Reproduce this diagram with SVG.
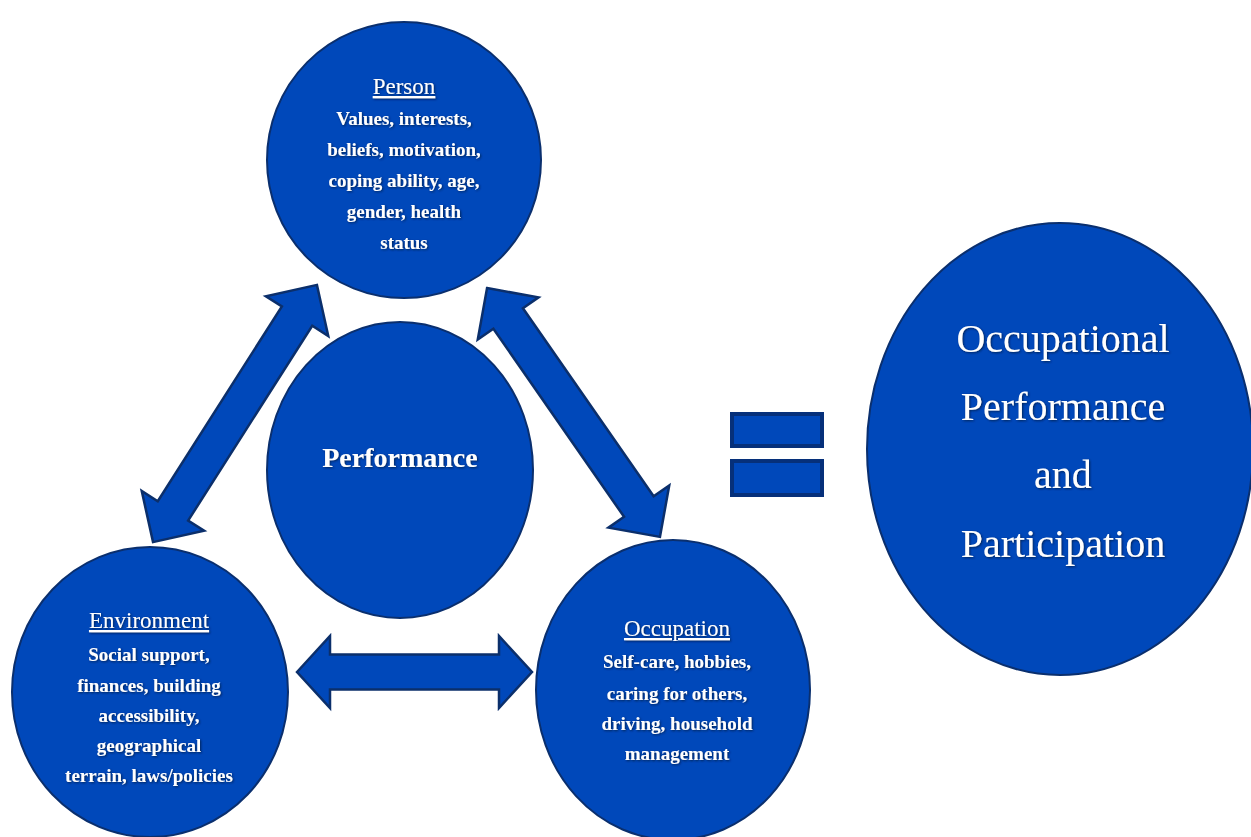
<svg xmlns="http://www.w3.org/2000/svg" width="1251" height="837" viewBox="0 0 1251 837">
  <defs>
    <filter id="txtShadow" x="-10%" y="-30%" width="120%" height="160%">
      <feDropShadow dx="1" dy="1" stdDeviation="0.8" flood-color="#001a4d" flood-opacity="0.9"/>
    </filter>
  </defs>
  <style>
    .disc { fill: #0048ba; stroke: #0a2f6e; stroke-width: 2; }
    .arrow { fill: #0048ba; stroke: #0b2f6b; stroke-width: 2.5; stroke-linejoin: miter; }
    .bar { fill: #0048ba; stroke: #06307a; stroke-width: 4; }
    text { font-family: "Liberation Serif", "Times New Roman", serif; fill: #ffffff; text-anchor: middle; filter: url(#txtShadow); }
    .head { font-size: 23px; text-decoration: underline; }
    .body { font-size: 19px; font-weight: bold; }
    .center { font-size: 28px; font-weight: bold; }
    .result { font-size: 40px; }
  </style>

  <rect width="1251" height="837" fill="#ffffff"/>

  <!-- connectors: double-headed block arrows between the three domains -->
  <g id="connectors">
    <!-- Person <-> Environment -->
    <polygon class="arrow" transform="translate(235,413.5) rotate(-57.5)"
      points="-152.5,0 -115.5,-37 -115.5,-18 115.5,-18 115.5,-37 152.5,0 115.5,37 115.5,18 -115.5,18 -115.5,37"/>
    <!-- Person <-> Occupation -->
    <polygon class="arrow" transform="translate(573.5,412.5) rotate(55.2)"
      points="-151.5,0 -114.5,-37 -114.5,-18 114.5,-18 114.5,-37 151.5,0 114.5,37 114.5,18 -114.5,18 -114.5,37"/>
    <!-- Environment <-> Occupation -->
    <polygon class="arrow" transform="translate(414.5,672)"
      points="-117.5,0 -84.5,-36 -84.5,-17.5 84.5,-17.5 84.5,-36 117.5,0 84.5,36 84.5,17.5 -84.5,17.5 -84.5,36"/>
  </g>

  <g id="person">
    <ellipse class="disc" cx="404" cy="160" rx="137" ry="138"/>
    <text class="head" x="404" y="94">Person</text>
    <text class="body" x="404" y="125">Values, interests,</text>
    <text class="body" x="404" y="156">beliefs, motivation,</text>
    <text class="body" x="404" y="187">coping ability, age,</text>
    <text class="body" x="404" y="218">gender, health</text>
    <text class="body" x="404" y="249">status</text>
  </g>

  <g id="performance">
    <ellipse class="disc" cx="400" cy="470" rx="133" ry="148"/>
    <text class="center" x="400" y="467">Performance</text>
  </g>

  <g id="environment">
    <ellipse class="disc" cx="150" cy="692" rx="138" ry="145"/>
    <text class="head" x="149" y="628">Environment</text>
    <text class="body" x="149" y="661">Social support,</text>
    <text class="body" x="149" y="692">finances, building</text>
    <text class="body" x="149" y="722">accessibility,</text>
    <text class="body" x="149" y="752">geographical</text>
    <text class="body" x="149" y="782">terrain, laws/policies</text>
  </g>

  <g id="occupation">
    <ellipse class="disc" cx="673" cy="690" rx="137" ry="150"/>
    <text class="head" x="677" y="636">Occupation</text>
    <text class="body" x="677" y="668">Self-care, hobbies,</text>
    <text class="body" x="677" y="700">caring for others,</text>
    <text class="body" x="677" y="730">driving, household</text>
    <text class="body" x="677" y="760">management</text>
  </g>

  <g id="equals">
    <rect class="bar" x="732" y="414" width="90" height="32"/>
    <rect class="bar" x="732" y="461" width="90" height="34"/>
  </g>

  <g id="outcome">
    <ellipse class="disc" cx="1060" cy="449" rx="193" ry="226"/>
    <text class="result" x="1063" y="352">Occupational</text>
    <text class="result" x="1063" y="420">Performance</text>
    <text class="result" x="1063" y="488">and</text>
    <text class="result" x="1063" y="557">Participation</text>
  </g>
</svg>
